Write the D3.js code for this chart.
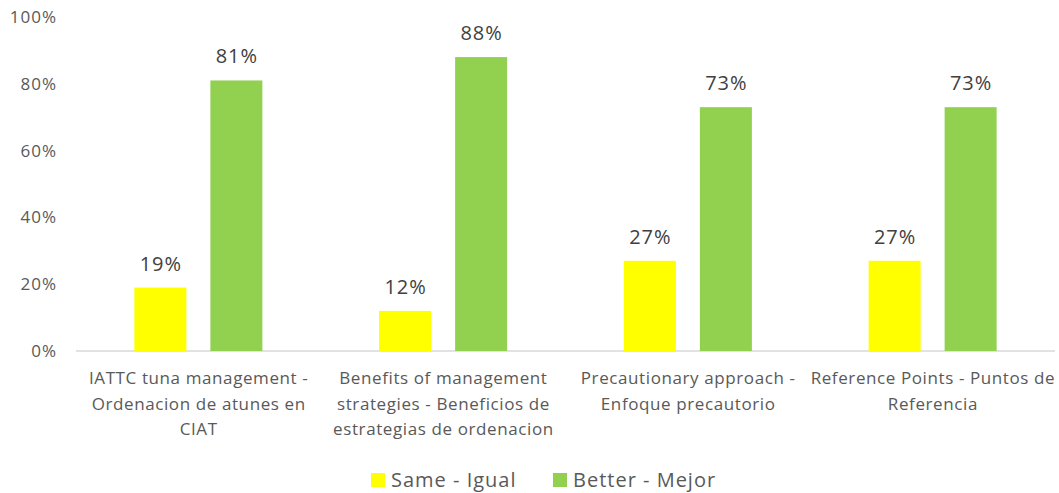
<!DOCTYPE html>
<html>
<head>
<meta charset="utf-8">
<script src="https://cdn.jsdelivr.net/npm/d3@7"></script>
<style>
  html, body { margin: 0; padding: 0; background: #fff; }
  svg { display: block; font-family: "Open Sans", Lato, sans-serif; }
</style>
</head>
<body>
<svg id="chart" width="1059" height="493"></svg>
<script>
// Topics (bilingual labels, already split into lines)
const categories = [
  ["IATTC tuna management -", "Ordenacion de atunes en", "CIAT"],
  ["Benefits of management", "strategies - Beneficios de", "estrategias de ordenacion"],
  ["Precautionary approach -", "Enfoque precautorio"],
  ["Reference Points - Puntos de", "Referencia"]
];
const seriesNames = ["Same - Igual", "Better - Mejor"];
const seriesColors = ["#FFFF00", "#92D050"];
const sameValues = [0.19, 0.12, 0.27, 0.27];
const betterValues = [0.81, 0.88, 0.73, 0.73];
const yTicks = [0, 0.2, 0.4, 0.6, 0.8, 1.0];

const svg = d3.select("#chart");
const margin = { left: 76, right: 4, top: 17 };
const width = 1059;
const plotBottom = 351;

const x0 = d3.scaleBand()
  .domain(d3.range(categories.length))
  .range([margin.left, width - margin.right]);

// Two bars of 52px with a 24px gap inside each category
const barW = 52, barGap = 24, groupW = barW * 2 + barGap;
const x1 = d3.scaleBand()
  .domain([0, 1])
  .range([0, groupW])
  .paddingInner(barGap / (barW + barGap));

const y = d3.scaleLinear().domain([0, 1]).range([plotBottom, margin.top]);

// Y axis labels (no axis line, no gridlines)
const yAxis = d3.axisLeft(y).tickValues(yTicks).tickFormat(d3.format(".0%")).tickSize(0).tickPadding(19);
const yg = svg.append("g").attr("transform", `translate(${margin.left},0)`).call(yAxis);
yg.select(".domain").remove();
yg.selectAll("text").attr("fill", "#595959")
  .style("font-size", "17px").style("letter-spacing", "1px")
  .style("font-family", "'Open Sans', sans-serif");

// Baseline
svg.append("line")
  .attr("x1", margin.left).attr("x2", width - margin.right)
  .attr("y1", y(0)).attr("y2", y(0))
  .attr("stroke", "#d9d9d9").attr("stroke-width", 1.5);

const data = categories.map((c, i) => ({ i, values: [sameValues[i], betterValues[i]] }));

const groupOffset = (x0.bandwidth() - groupW) / 2;
const groups = svg.selectAll("g.cat").data(data).join("g")
  .attr("class", "cat")
  .attr("transform", d => `translate(${x0(d.i) + groupOffset},0)`);

groups.selectAll("rect").data(d => d.values.map((v, s) => ({ v, s }))).join("rect")
  .attr("x", d => x1(d.s))
  .attr("width", x1.bandwidth())
  .attr("y", d => y(d.v))
  .attr("height", d => y(0) - y(d.v))
  .attr("fill", d => seriesColors[d.s]);

groups.selectAll("text.val").data(d => d.values.map((v, s) => ({ v, s }))).join("text")
  .attr("class", "val")
  .attr("x", d => x1(d.s) + x1.bandwidth() / 2 + 0.5)
  .attr("y", d => y(d.v) - 17)
  .attr("text-anchor", "middle")
  .attr("fill", "#404040")
  .style("font-size", "20px")
  .style("letter-spacing", "1px")
  .text(d => d3.format(".0%")(d.v));

// Category labels
const catLabels = svg.selectAll("text.catlabel").data(categories).join("text")
  .attr("class", "catlabel")
  .attr("text-anchor", "middle")
  .attr("fill", "#595959")
  .style("font-size", "17px")
  .style("letter-spacing", "0.6px")
  .attr("x", (d, i) => x0(i) + x0.bandwidth() / 2 + 0.3)
  .attr("y", 384);
catLabels.selectAll("tspan").data(d => d).join("tspan")
  .attr("x", function() { return this.parentNode.getAttribute("x"); })
  .attr("dy", (d, k) => k === 0 ? 0 : 25.5)
  .text(d => d);

// Legend
const legendX = [371, 553];
const legend = svg.selectAll("g.legend").data(seriesNames).join("g")
  .attr("class", "legend")
  .attr("transform", (d, i) => `translate(${legendX[i]},473)`);
legend.append("rect").attr("width", 14).attr("height", 14).attr("fill", (d, i) => seriesColors[i]);
legend.append("text").attr("x", 20).attr("y", 14)
  .attr("fill", "#595959").style("font-size", "20px").style("letter-spacing", "1px")
  .text(d => d);
</script>
</body>
</html>
